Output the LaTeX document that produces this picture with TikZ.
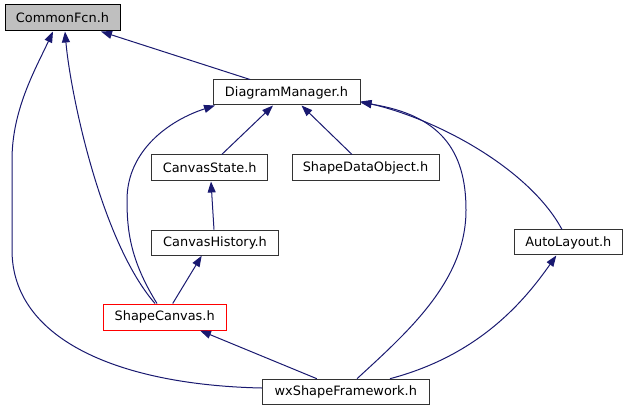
\documentclass[tikz,border=0pt]{standalone}
\usepackage{fontspec}
\setmainfont{DejaVu Sans}
\usetikzlibrary{arrows.meta}
\definecolor{edgeblue}{HTML}{191970}
\definecolor{cfgray}{HTML}{BFBFBF}
\tikzset{
  filebox/.style={draw=black!80, line width=1pt, fill=white, inner sep=0pt, font=\fontsize{12.9}{14}\selectfont, text=black},
  edge/.style={draw=edgeblue, line width=1pt, -{Triangle[length=11pt,width=8pt]}},
}
\begin{document}
\begin{tikzpicture}[x=1pt,y=-1pt]
\useasboundingbox (0,0) rectangle (628,411);
\node[filebox, fill=cfgray, draw=black, minimum width=115pt, minimum height=26pt] (cf) at (62.5,18) {CommonFcn.h};
\node[filebox, minimum width=147pt, minimum height=25pt] (dm) at (286.5,92.5) {DiagramManager.h};
\node[filebox, minimum width=116pt, minimum height=26pt] (cs) at (209.7,168) {CanvasState.h};
\node[filebox, minimum width=147pt, minimum height=26pt] (sdo) at (365.5,168) {ShapeDataObject.h};
\node[filebox, minimum width=126.6pt, minimum height=25pt] (ch) at (215,242.7) {CanvasHistory.h};
\node[filebox, draw=red, minimum width=122.7pt, minimum height=26pt] (sc) at (164.7,317) {ShapeCanvas.h};
\node[filebox, minimum width=108pt, minimum height=25pt] (al) at (568.3,242.5) {AutoLayout.h};
\node[filebox, minimum width=167pt, minimum height=25pt] (wx) at (345.8,391.7) {wxShapeFramework.h};

% DiagramManager -> CommonFcn
\draw[edge] ([xshift=-36.5pt]dm.north) -- ([xshift=38.5pt]cf.south);
% ShapeCanvas -> CommonFcn
\draw[edge] ([xshift=-9.7pt]sc.north) .. controls (100,240) and (70,90) .. ([xshift=2.5pt]cf.south);
% wxShapeFramework -> CommonFcn
\draw[edge] ([yshift=3.7pt]wx.west) .. controls (120,385) and (12,340) .. (12,250) -- (12,160) .. controls (12,110) and (35,70) .. ([xshift=-9.5pt]cf.south);
% CanvasState -> DiagramManager
\draw[edge] ([xshift=12pt]cs.north) -- ([xshift=-13.5pt]dm.south);
% ShapeDataObject -> DiagramManager
\draw[edge] ([xshift=-13.5pt]sdo.north) -- ([xshift=15pt]dm.south);
% ShapeCanvas -> DiagramManager
\draw[edge] ([xshift=-7.7pt]sc.north) .. controls (130,260) and (127,230) .. (127,200) .. controls (127,150) and (170,120) .. ([xshift=-71.5pt]dm.south);
% wxShapeFramework -> DiagramManager
\draw[edge] ([xshift=11.2pt]wx.north) .. controls (410,330) and (466,280) .. (466,210) .. controls (466,150) and (440,115) .. ([yshift=-10pt]dm.east);
% AutoLayout -> DiagramManager
\draw[edge] ([xshift=-6.3pt]al.north) .. controls (530,170) and (440,120) .. ([yshift=-9pt]dm.east);
% CanvasHistory -> CanvasState
\draw[edge] ([xshift=-1pt]ch.north) -- ([xshift=1.3pt]cs.south);
% ShapeCanvas -> CanvasHistory
\draw[edge] ([xshift=8pt]sc.north) -- ([xshift=-13.3pt]ch.south);
% wxShapeFramework -> ShapeCanvas
\draw[edge] ([xshift=-29pt]wx.north) -- ([xshift=35.3pt]sc.south);
% wxShapeFramework -> AutoLayout
\draw[edge] ([xshift=44.2pt]wx.north) .. controls (480,355) and (525,300) .. ([xshift=-12pt]al.south);
\end{tikzpicture}
\end{document}
